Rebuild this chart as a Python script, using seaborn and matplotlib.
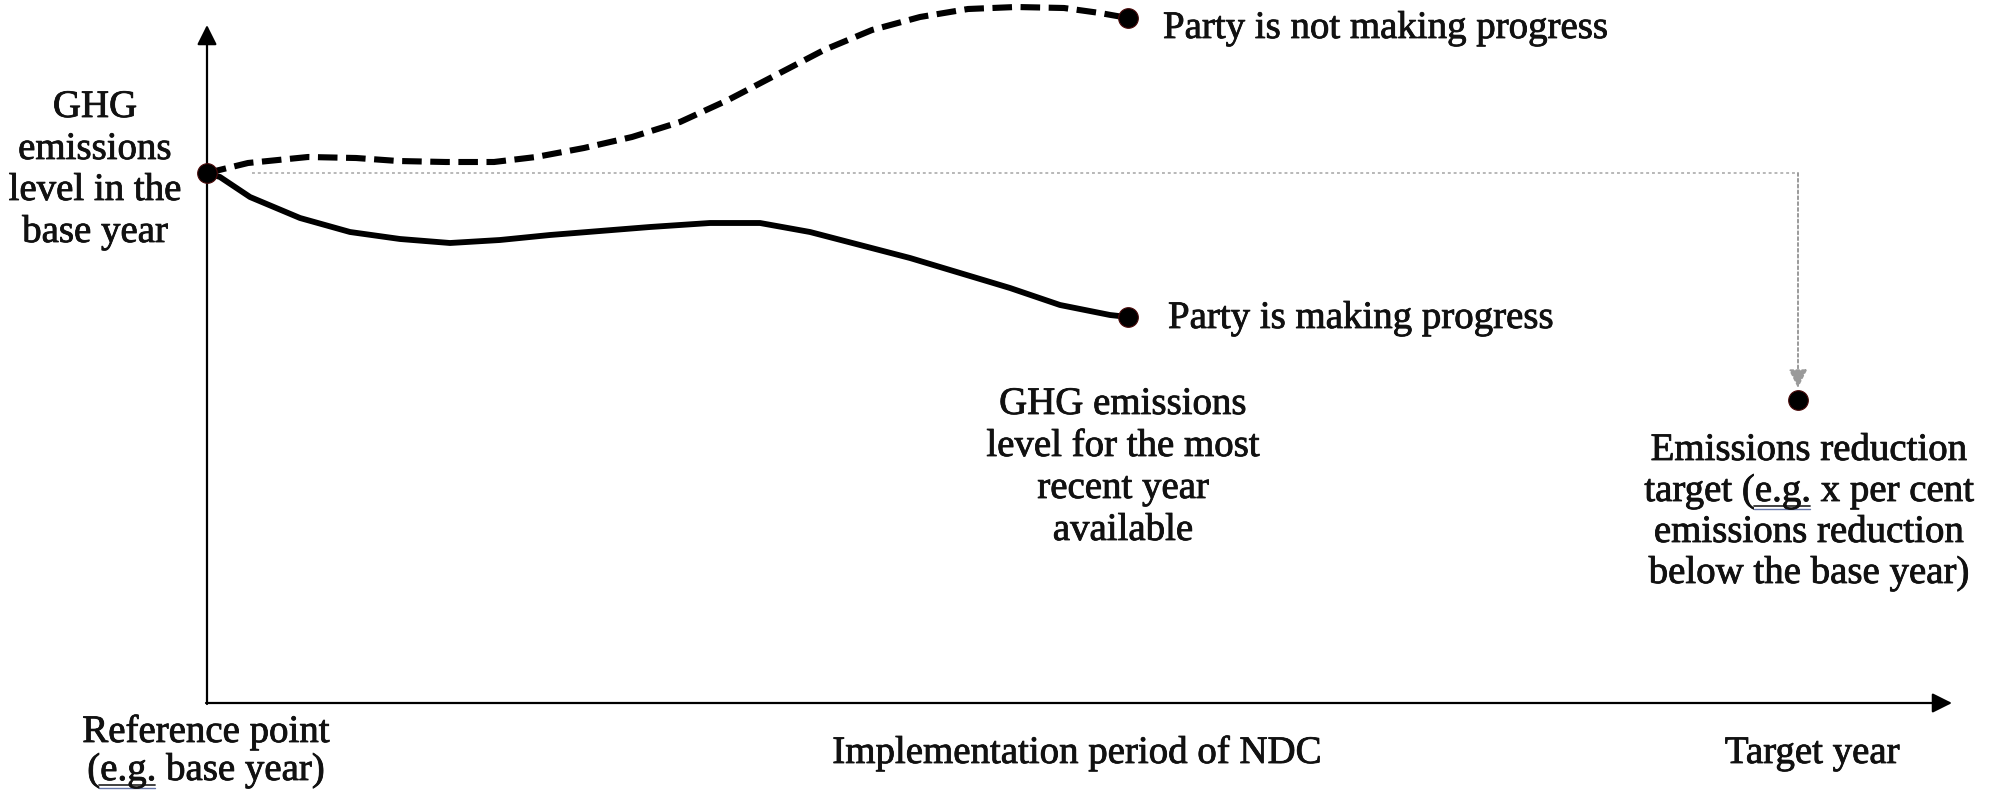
import matplotlib
matplotlib.use("Agg")
import matplotlib.pyplot as plt
import matplotlib.patheffects as pe
import seaborn as sns

# curves (pixel units of the original, y grows downward)
x_not_progress = [207, 248, 308, 356, 398, 446, 494, 536, 584, 632, 680, 728, 776, 824, 872, 920, 968, 1016, 1064, 1100, 1128]
y_not_progress = [173, 163, 157, 158, 161, 162, 162, 157, 148, 137, 122, 100, 75, 50, 30, 17, 9, 7, 8, 13, 18]

x_progress = [207, 220, 250, 300, 350, 400, 450, 500, 550, 600, 650, 710, 760, 810, 860, 910, 960, 1010, 1060, 1110, 1128]
y_progress = [173, 177, 197, 218, 232, 239, 243, 240, 235, 231, 227, 223, 223, 232, 245, 258, 273, 288, 305, 315, 317]

base_x, base_level = 207, 173
target_x, target_level = 1798, 400
origin_x, origin_y = 207, 703
x_end, y_end = 1952, 25

FONT = "Liberation Serif"
FS = 28

sns.set_theme(style="white")
plt.rcParams["font.family"] = [FONT, "DejaVu Serif"]

fig = plt.figure(figsize=(19.9, 7.93), dpi=100)
ax = fig.add_axes([0, 0, 1, 1])
ax.set_xlim(0, 1990)
ax.set_ylim(793, 0)
ax.axis("off")

# axes with arrow heads
ax.annotate("", xy=(origin_x, y_end), xytext=(origin_x, origin_y + 1),
            arrowprops=dict(arrowstyle="-|>", lw=1.6, color="black", mutation_scale=30, shrinkA=0, shrinkB=0))
ax.annotate("", xy=(x_end, origin_y), xytext=(origin_x - 1, origin_y),
            arrowprops=dict(arrowstyle="-|>", lw=1.6, color="black", mutation_scale=30, shrinkA=0, shrinkB=0))

# grey guide from the base level down to the target
ax.plot([base_x + 45, target_x], [base_level, base_level], color="#b8b8b8", lw=1.4, linestyle=(0, (1.5, 1.5)))
ax.annotate("", xy=(target_x, target_level - 12), xytext=(target_x, base_level),
            arrowprops=dict(arrowstyle="-|>", lw=1.4, color="#9a9a9a", linestyle=(0, (1.5, 1.5)),
                            mutation_scale=28, shrinkA=0, shrinkB=0))

# trajectories
sns.lineplot(x=x_not_progress, y=y_not_progress, sort=False, color="black", lw=4.4, ax=ax)
ax.lines[-1].set_dashes([3.2, 1.4])
sns.lineplot(x=x_progress, y=y_progress, sort=False, color="black", lw=4.2, ax=ax,
             solid_joinstyle="round", solid_capstyle="round")

dots_x = [base_x, x_not_progress[-1], x_progress[-1], target_x]
dots_y = [base_level, y_not_progress[-1], y_progress[-1], target_level]
sns.scatterplot(x=dots_x, y=dots_y, s=200, color="black", edgecolor="#4a0a0a", linewidth=0.8, zorder=5, ax=ax)

renderer = fig.canvas.get_renderer()
heavy = [pe.withStroke(linewidth=0.6, foreground="#111111")]


def text_width(s):
    t = ax.text(0, 0, s, fontsize=FS, family=FONT)
    w = t.get_window_extent(renderer).width
    t.remove()
    return w


def label(lines, cx, baselines, ha="center", underline=None):
    for s, y in zip(lines, baselines):
        ax.text(cx, y, s, fontsize=FS, family=FONT, ha=ha, va="baseline", color="#111111",
                path_effects=heavy)
        if underline and underline in s:
            w = text_width(s)
            left = cx - w / 2 if ha == "center" else cx
            pre = s[:s.index(underline)]
            x0 = left + text_width(pre) - 1
            x1 = x0 + text_width(underline)
            ax.plot([x0, x1], [y + 5, y + 5], color="#333333", lw=1.3)
            ax.plot([x0, x1], [y + 8, y + 8], color="#6677aa", lw=1.0)


label(["GHG", "emissions", "level in the", "base year"], 95, [117, 159, 200, 242])
label(["Party is not making progress"], 1163, [38], ha="left")
label(["Party is making progress"], 1168, [328], ha="left")
label(["GHG emissions", "level for the most", "recent year", "available"], 1123, [414, 456, 498, 540])
label(["Emissions reduction", "target (e.g. x per cent", "emissions reduction", "below the base year)"],
      1809, [460, 501, 542, 583], underline="e.g.")
label(["Reference point", "(e.g. base year)"], 206, [742, 780], underline="e.g.")
label(["Implementation period of NDC"], 1077, [763])
label(["Target year"], 1812, [763])

fig.savefig("out.png", dpi=100, facecolor="white")
